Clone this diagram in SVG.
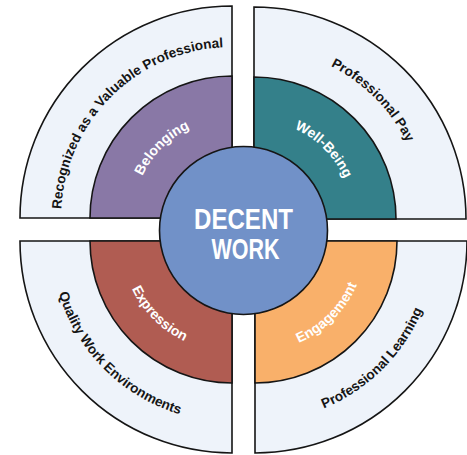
<svg xmlns="http://www.w3.org/2000/svg" xmlns:xlink="http://www.w3.org/1999/xlink" width="467" height="455" viewBox="0 0 467 455">
<style>
.shape{stroke:#151515;stroke-width:1.6;stroke-linejoin:miter}
.outer{fill:#eef3fa}
.lbl{font-family:"Liberation Sans",Arial,Helvetica,sans-serif;font-weight:bold}
.olbl{font-size:13.6px;fill:#151515}
.ilbl{font-size:14px;fill:#ffffff}
.clbl{font-size:30px;fill:#ffffff}
</style>
<defs>
<path id="pTLo" d="M61,218 A171,171 0 0 1 232,47"/>
<path id="pTRo" d="M254,48 A171,171 0 0 1 425,219"/>
<path id="pBLo" d="M51,241 A181,181 0 0 0 232,422"/>
<path id="pBRo" d="M255,422 A181,181 0 0 0 436,241"/>
<path id="pTLi" d="M133,218 A99,99 0 0 1 232,119"/>
<path id="pTRi" d="M254,120 A99,99 0 0 1 353,219"/>
<path id="pBLi" d="M121,241 A111,111 0 0 0 232,352"/>
<path id="pBRi" d="M255,352 A111,111 0 0 0 366,241"/>
</defs>
<g id="quadrant-recognized">
<path class="shape outer" d="M232,218 L20,218 A212,212 0 0 1 232,6 Z"/>
<text class="lbl olbl"><textPath xlink:href="#pTLo" href="#pTLo" startOffset="50%" text-anchor="middle">Recognized as a Valuable Professional</textPath></text>
</g>
<g id="quadrant-pay">
<path class="shape outer" d="M254,219 L254,7 A212,212 0 0 1 466,219 Z"/>
<text class="lbl olbl"><textPath xlink:href="#pTRo" href="#pTRo" startOffset="50%" text-anchor="middle">Professional Pay</textPath></text>
</g>
<g id="quadrant-environments">
<path class="shape outer" d="M232,241 L20,241 A212,212 0 0 0 232,453 Z"/>
<text class="lbl olbl"><textPath xlink:href="#pBLo" href="#pBLo" startOffset="50%" text-anchor="middle">Quality Work Environments</textPath></text>
</g>
<g id="quadrant-learning">
<path class="shape outer" d="M255,241 L255,453 A212,212 0 0 0 467,241 Z"/>
<text class="lbl olbl"><textPath xlink:href="#pBRo" href="#pBRo" startOffset="50%" text-anchor="middle">Professional Learning</textPath></text>
</g>
<g id="belonging">
<path class="shape" fill="#8978a6" d="M232,218 L90,218 A142,142 0 0 1 232,76 Z"/>
<text class="lbl ilbl"><textPath xlink:href="#pTLi" href="#pTLi" startOffset="50%" text-anchor="middle">Belonging</textPath></text>
</g>
<g id="well-being">
<path class="shape" fill="#34808a" d="M254,219 L254,77 A142,142 0 0 1 396,219 Z"/>
<text class="lbl ilbl"><textPath xlink:href="#pTRi" href="#pTRi" startOffset="50%" text-anchor="middle">Well-Being</textPath></text>
</g>
<g id="expression">
<path class="shape" fill="#b05c52" d="M232,241 L90,241 A142,142 0 0 0 232,383 Z"/>
<text class="lbl ilbl"><textPath xlink:href="#pBLi" href="#pBLi" startOffset="50%" text-anchor="middle">Expression</textPath></text>
</g>
<g id="engagement">
<path class="shape" fill="#f9b06a" d="M255,241 L255,383 A142,142 0 0 0 397,241 Z"/>
<text class="lbl ilbl"><textPath xlink:href="#pBRi" href="#pBRi" startOffset="50%" text-anchor="middle">Engagement</textPath></text>
</g>
<g id="decent-work">
<circle class="shape" fill="#7191c8" cx="243.5" cy="230.5" r="84"/>
<text class="lbl clbl" x="243.5" y="228.5" text-anchor="middle" textLength="99" lengthAdjust="spacingAndGlyphs">DECENT</text>
<text class="lbl clbl" x="245.5" y="258.5" text-anchor="middle" textLength="68" lengthAdjust="spacingAndGlyphs">WORK</text>
</g>
</svg>
